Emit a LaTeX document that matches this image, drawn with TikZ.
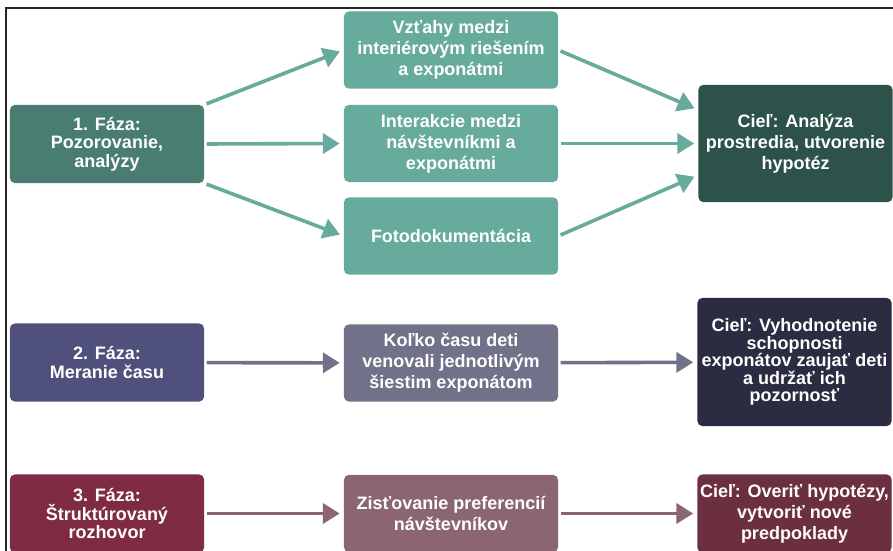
\documentclass[tikz,border=0pt]{standalone}
\usepackage{fontspec}
\setmainfont{Liberation Sans}
\usetikzlibrary{positioning, arrows.meta}

\definecolor{phaseone}{HTML}{4A7D71}
\definecolor{midone}{HTML}{67AB9D}
\definecolor{goalone}{HTML}{2D5249}
\definecolor{phasetwo}{HTML}{50507C}
\definecolor{midtwo}{HTML}{717189}
\definecolor{goaltwo}{HTML}{2B2B42}
\definecolor{phasethree}{HTML}{7E2B43}
\definecolor{midthree}{HTML}{8B6670}
\definecolor{goalthree}{HTML}{6C2F40}

\begin{document}
\begin{tikzpicture}[x=0.025cm, y=-0.025cm,
  box/.style={rectangle, rounded corners=0.12cm, text=white, align=center, inner sep=0pt,
    font=\bfseries\fontsize{12.8}{14.9}\selectfont},
  phase/.style={box, minimum width=4.85cm, minimum height=1.95cm,
    font=\bfseries\fontsize{12.8}{13.2}\selectfont},
  middle/.style={box, minimum width=5.35cm, minimum height=1.925cm},
  goal/.style={box, minimum width=4.85cm},
  link/.style={-{Triangle[length=0.42cm,width=0.5cm]}, line width=0.09cm,
    shorten >=0.1cm, shorten <=0.06cm}]
  \useasboundingbox (0,0) rectangle (893,551);

  % Frame
  \draw[line width=0.05cm, black!85] (6,560) -- (6,8) -- (900,8);

  % Define phase 1
  \node[phase, fill=phaseone] (p_1) at (107,144) {1. Fáza:\\Pozorovanie,\\analýzy};
  \node[middle, fill=midone] (m_1a) at (451,50) {Vzťahy medzi\\interiérovým riešením\\a exponátmi};
  \node[middle, fill=midone] (m_1b) at (451,143.5) {Interakcie medzi\\návštevníkmi a\\exponátmi};
  \node[middle, fill=midone] (m_1c) at (451,236) {Fotodokumentácia};
  \node[goal, fill=goalone, minimum height=2.93cm] (g_1) at (795.5,143.5) {Cieľ: Analýza\\prostredia, utvorenie\\hypotéz};

  % Define phase 2
  \node[phase, fill=phasetwo] (p_2) at (107,362.5) {2. Fáza:\\Meranie času};
  \node[middle, fill=midtwo] (m_2) at (451,363) {Koľko času deti\\venovali jednotlivým\\šiestim exponátom};
  \node[goal, fill=goaltwo, minimum height=3.2cm,
    font=\bfseries\fontsize{12.8}{12.5}\selectfont] (g_2) at (794.5,362) {Cieľ: Vyhodnotenie\\schopnosti\\exponátov zaujať deti\\a udržať ich\\pozornosť};

  % Define phase 3
  \node[phase, fill=phasethree] (p_3) at (107,513.5) {3. Fáza:\\Štruktúrovaný\\rozhovor};
  \node[middle, fill=midthree] (m_3) at (451,513.5) {Zisťovanie preferencií\\návštevníkov};
  \node[goal, fill=goalthree, minimum height=1.95cm] (g_3) at (794.5,513.5) {Cieľ: Overiť hypotézy,\\vytvoriť nové\\predpoklady};

  % Define transitions
  \path[link, color=midone]
    (p_1.north east) edge (m_1a.west)
    (p_1.east)       edge (m_1b.west)
    (p_1.south east) edge (m_1c.west)
    (m_1a.east) edge ([yshift=0.84cm]g_1.west)
    (m_1b.east) edge (g_1.west)
    (m_1c.east) edge ([yshift=-0.79cm]g_1.west);
  \path[link, color=midtwo]
    (p_2) edge (m_2)
    (m_2) edge (g_2);
  \path[link, color=midthree]
    (p_3) edge (m_3)
    (m_3) edge (g_3);

\end{tikzpicture}
\end{document}
